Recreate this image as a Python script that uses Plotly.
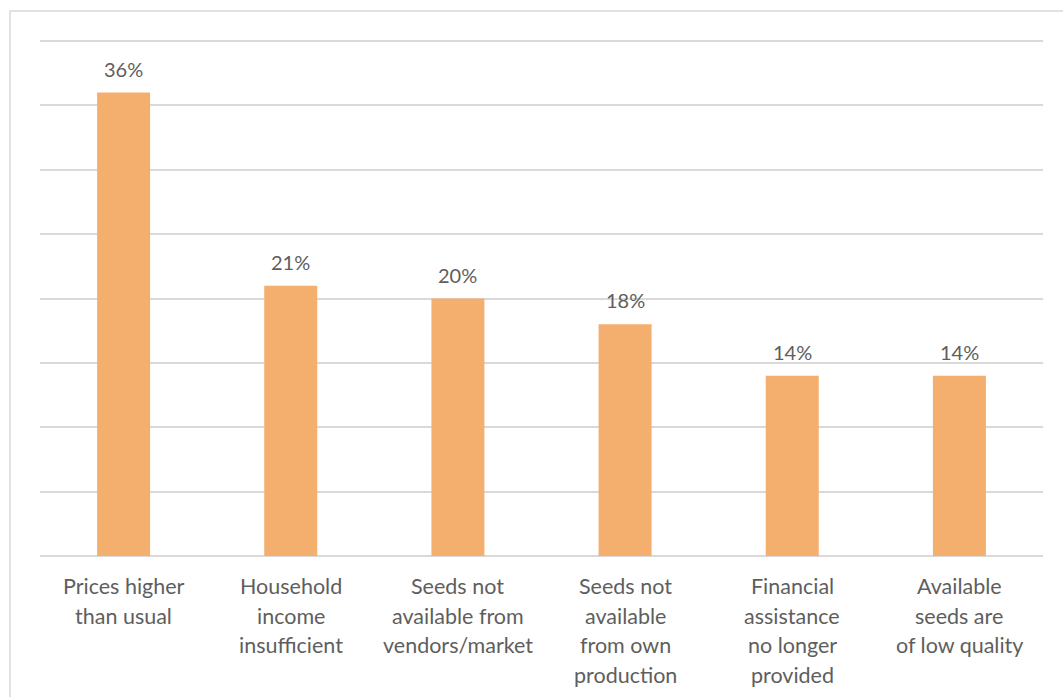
import plotly.graph_objects as go

# Reasons households could not access seeds (share of respondents, %)
categories = [
    "Prices higher than usual",
    "Household income insufficient",
    "Seeds not available from vendors/market",
    "Seeds not available from own production",
    "Financial assistance no longer provided",
    "Available seeds are of low quality",
]
label_lines = [
    ["Prices higher", "than usual"],
    ["Household", "income", "insufficient"],
    ["Seeds not", "available from", "vendors/market"],
    ["Seeds not", "available", "from own", "production"],
    ["Financial", "assistance", "no longer", "provided"],
    ["Available", "seeds are", "of low quality"],
]
values = [36, 21, 20, 18, 14, 14]
y_max = 40

BAR_COLOR = "#F4AE6E"
TEXT_COLOR = "#5E5E5E"
GRID_COLOR = "#D9D9D9"
FONT = "Lato, Open Sans, sans-serif"

fig = go.Figure(
    go.Bar(
        x=categories,
        y=values,
        marker=dict(color=BAR_COLOR, line=dict(width=0)),
        hoverinfo="skip",
    )
)

annotations = []
# value labels above bars
for cat, v in zip(categories, values):
    annotations.append(dict(
        x=cat, y=v, xref="x", yref="y", text=f"{v}%", showarrow=False,
        yanchor="middle", yshift=24,
        font=dict(family=FONT, size=20, color=TEXT_COLOR),
    ))
# multi-line category labels under the axis
for cat, lines in zip(categories, label_lines):
    for i, line in enumerate(lines):
        annotations.append(dict(
            x=cat, y=0, xref="x", yref="paper", text=line, showarrow=False,
            yanchor="middle", yshift=-30 - 29.5 * i,
            font=dict(family=FONT, size=21.5, color=TEXT_COLOR),
        ))

fig.update_layout(
    width=1063, height=697,
    margin=dict(l=40, r=20, t=40, b=141),
    paper_bgcolor="white", plot_bgcolor="white",
    bargap=0.683,
    showlegend=False,
    font=dict(family=FONT, color=TEXT_COLOR),
    xaxis=dict(showticklabels=False, showgrid=False, zeroline=False,
               showline=False, ticks=""),
    yaxis=dict(range=[0, y_max * 1.002], dtick=5, showticklabels=False,
               showgrid=True, gridcolor=GRID_COLOR, gridwidth=1.5,
               zeroline=True, zerolinecolor=GRID_COLOR, zerolinewidth=1.5,
               showline=False, ticks=""),
    annotations=annotations,
    shapes=[dict(
        type="rect", xref="paper", yref="paper",
        x0=-0.0299, x1=1.05, y0=-0.4, y1=1.056,
        line=dict(color=GRID_COLOR, width=1.5), fillcolor="rgba(0,0,0,0)",
        layer="below",
    )],
)

fig.write_html("out.html")
